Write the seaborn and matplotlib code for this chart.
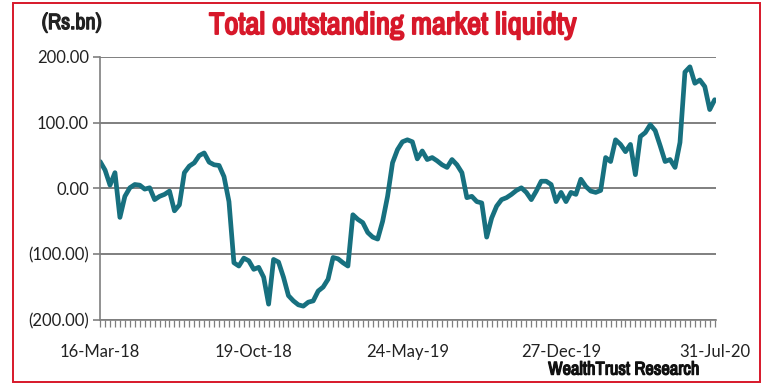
import matplotlib
matplotlib.use("Agg")
import numpy as np
import pandas as pd
import seaborn as sns
from matplotlib import pyplot as plt, ticker, dates as mdates, font_manager, patheffects
from matplotlib.patches import Rectangle

# Weekly liquidity, Rs.bn, starting 16-Mar-18
start_date = "2018-03-16"
liquidity = [
    41, 28, 5, 24, -44, -12, 1, 6, 5, -1,
    1, -17, -12, -9, -4, -34, -25, 24, 34, 39,
    50, 54, 40, 36, 35, 18, -20, -113, -118, -106,
    -110, -123, -120, -135, -176, -108, -112, -135, -163, -171,
    -177, -179, -173, -171, -156, -150, -138, -105, -107, -113,
    -118, -40, -47, -52, -67, -74, -77, -50, -12, 39,
    59, 71, 74, 71, 45, 57, 44, 47, 42, 36,
    32, 44, 36, 24, -14, -12, -20, -22, -74, -45,
    -27, -17, -14, -9, -3, 1, -6, -17, -4, 11,
    11, 6, -20, -6, -20, -6, -9, 14, 3, -4,
    -6, -3, 47, 41, 74, 67, 56, 67, 21, 79,
    85, 97, 88, 65, 41, 44, 32, 70, 177, 185,
    160, 165, 155, 120, 135,
]
x_tick_labels = ["16-Mar-18", "19-Oct-18", "24-May-19", "27-Dec-19", "31-Jul-20"]
y_ticks = [-200, -100, 0, 100, 200]


def pick_narrow_font():
    # look for a condensed / narrow face among the installed fonts
    fonts = font_manager.fontManager.ttflist
    for f in fonts:
        if "Narrow" in f.name or "Condensed" in f.name:
            return f.name, "normal"
    for f in fonts:
        if str(f.stretch) in ("condensed", "semi-condensed", "extra-condensed"):
            return f.name, f.stretch
    return "Roboto", "normal"


def fit_text(fig, txt, width_px):
    # shrink / grow the font so the text spans the given width
    r = fig.canvas.get_renderer()
    w = txt.get_window_extent(renderer=r).width
    txt.set_fontsize(txt.get_fontsize() * width_px / w)


dates = pd.date_range(start_date, periods=len(liquidity), freq="7D")
df = pd.DataFrame({"date": dates, "liquidity": liquidity})

sns.set_style("white")
plt.rcParams["font.family"] = ["Lato", "DejaVu Sans"]
narrow_name, narrow_stretch = pick_narrow_font()

fig = plt.figure(figsize=(7.7, 3.85), dpi=100)
ax = fig.add_axes([0.130, 0.169, 0.800, 0.683])

sns.lineplot(data=df, x="date", y="liquidity", ax=ax, color="#17707f", linewidth=3.4)

ax.set_ylim(-200, 200)
ax.set_xlim(dates[0], dates[-1] + pd.Timedelta(days=2))
ax.set_xlabel("")
ax.set_ylabel("")


def acct(v, pos):
    return "({:.2f})".format(-v) if v < 0 else "{:.2f}".format(v)


ax.set_yticks(y_ticks)
ax.yaxis.set_major_formatter(ticker.FuncFormatter(acct))
ax.grid(axis="y", color="#7f7f7f", linewidth=1.4)
ax.set_axisbelow(True)

# x axis: labels every 31 weeks, small ticks every week
tick_dates = pd.to_datetime(x_tick_labels, format="%d-%b-%y")
ax.set_xticks(tick_dates)
ax.set_xticklabels(x_tick_labels)
ax.xaxis.set_minor_locator(ticker.FixedLocator(mdates.date2num(dates)))

ax.tick_params(axis="x", which="both", direction="out", length=5, width=0.9,
               color="#7f7f7f", bottom=True, labelsize=12, pad=12, labelcolor="#222222")
ax.tick_params(axis="y", which="major", direction="out", length=5, width=1.2,
               color="#7f7f7f", left=True, labelsize=12, pad=3, labelcolor="#222222")

for side in ["top", "right"]:
    ax.spines[side].set_visible(False)
for side in ["left", "bottom"]:
    ax.spines[side].set_color("#7f7f7f")
    ax.spines[side].set_linewidth(1.2)

# titles and notes, narrow face made heavier with a stroke
narrow = dict(family=[narrow_name, "DejaVu Sans"], fontstretch=narrow_stretch, fontweight="bold")
title = fig.text(0.51, 0.935, "Total outstanding market liquidty", color="#d7182a",
                 fontsize=19, ha="center", va="center", **narrow)
unit = fig.text(0.093, 0.94, "(Rs.bn)", color="#222222", fontsize=13,
                ha="center", va="center", **narrow)
note = fig.text(0.81, 0.04, "WealthTrust Research", color="#111111", fontsize=12.5,
                ha="center", va="center", **narrow)
fit_text(fig, title, 368)
fit_text(fig, unit, 60)
fit_text(fig, note, 152)
title.set_path_effects([patheffects.withStroke(linewidth=1.3, foreground="#d7182a")])
unit.set_path_effects([patheffects.withStroke(linewidth=0.9, foreground="#222222")])
note.set_path_effects([patheffects.withStroke(linewidth=0.9, foreground="#111111")])

# red frame round the whole chart
fig.patches.append(Rectangle((0.017, 0.008), 0.970, 0.984, transform=fig.transFigure,
                             fill=False, edgecolor="#d7182a", linewidth=1.4))

plt.savefig("out.png", dpi=100)
